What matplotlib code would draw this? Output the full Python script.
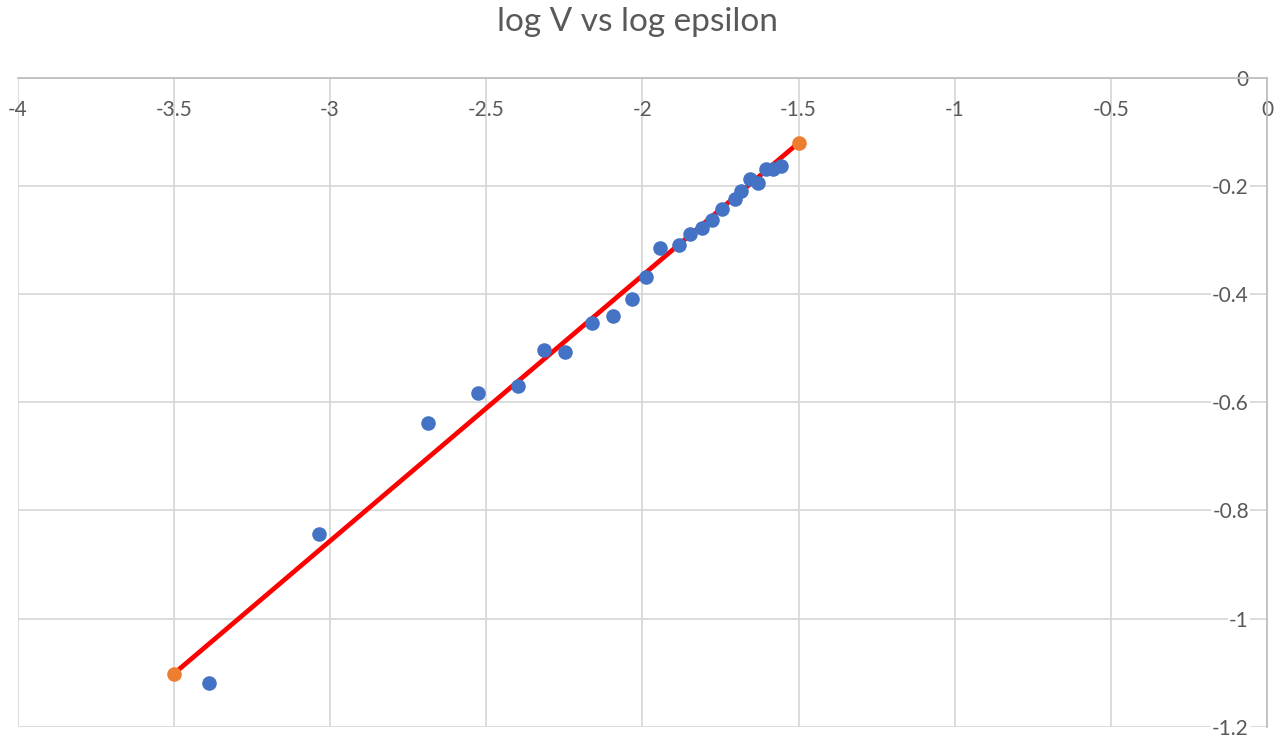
import matplotlib
matplotlib.use('Agg')
import matplotlib.pyplot as plt

# measured points (log epsilon, log V)
log_eps = [-3.387, -3.035, -2.686, -2.526, -2.398, -2.315, -2.248, -2.161,
           -2.094, -2.033, -1.988, -1.943, -1.883, -1.847, -1.809, -1.777,
           -1.745, -1.703, -1.684, -1.655, -1.629, -1.604, -1.581, -1.556]
log_v = [-1.120, -0.843, -0.639, -0.582, -0.570, -0.504, -0.506, -0.454,
         -0.440, -0.408, -0.369, -0.315, -0.309, -0.289, -0.277, -0.263,
         -0.243, -0.224, -0.209, -0.187, -0.195, -0.169, -0.169, -0.162]

# end points of the fitted line
fit_eps = [-3.5, -1.5]
fit_v = [-1.102, -0.120]

x_ticks = [-4, -3.5, -3, -2.5, -2, -1.5, -1, -0.5, 0]
y_ticks = [0, -0.2, -0.4, -0.6, -0.8, -1, -1.2]

plt.rcParams['font.family'] = ['Lato', 'DejaVu Sans']
text_col = '#595959'
grid_col = '#d9d9d9'

fig = plt.figure(figsize=(12.74, 7.37), dpi=100)
ax = fig.add_axes([17.7 / 1274, 1 - 726.7 / 737, (1267 - 17.7) / 1274, (726.7 - 78) / 737])

ax.plot(fit_eps, fit_v, color='#ff0000', lw=3.4, zorder=3, solid_capstyle='butt')
ax.scatter(log_eps, log_v, s=110, color='#4472c4', zorder=4, linewidths=0)
ax.scatter(fit_eps, fit_v, s=110, color='#ed7d31', zorder=5, linewidths=0)

ax.set_xlim(-4, 0)
ax.set_ylim(-1.2, 0)
ax.set_xticks(x_ticks)
ax.set_xticklabels(['%g' % t for t in x_ticks])
ax.set_yticks(y_ticks)
ax.set_yticklabels(['%g' % t for t in y_ticks])

ax.grid(True, color=grid_col, lw=1.3, zorder=0)
ax.set_axisbelow(True)

for side in ['left', 'bottom']:
    ax.spines[side].set_visible(False)
for side in ['top', 'right']:
    ax.spines[side].set_color('#bfbfbf')
    ax.spines[side].set_linewidth(1.3)

# axis labels sit inside the plot area, under the top line and left of the right line
ax.xaxis.tick_top()
ax.yaxis.tick_right()
ax.tick_params(axis='x', length=0, pad=-16, labelsize=15, labelcolor=text_col)
ax.tick_params(axis='y', length=0, pad=-13, labelsize=15, labelcolor=text_col)
for lab in ax.get_xticklabels():
    lab.set_verticalalignment('top')
for lab in ax.get_yticklabels():
    lab.set_horizontalalignment('right')
    lab.set_bbox(dict(facecolor='white', edgecolor='none', pad=1))

fig.text(0.5, 1 - 22 / 737, 'log V vs log epsilon', ha='center', va='center',
         fontsize=24, color=text_col)

fig.savefig('out.png', dpi=100)
